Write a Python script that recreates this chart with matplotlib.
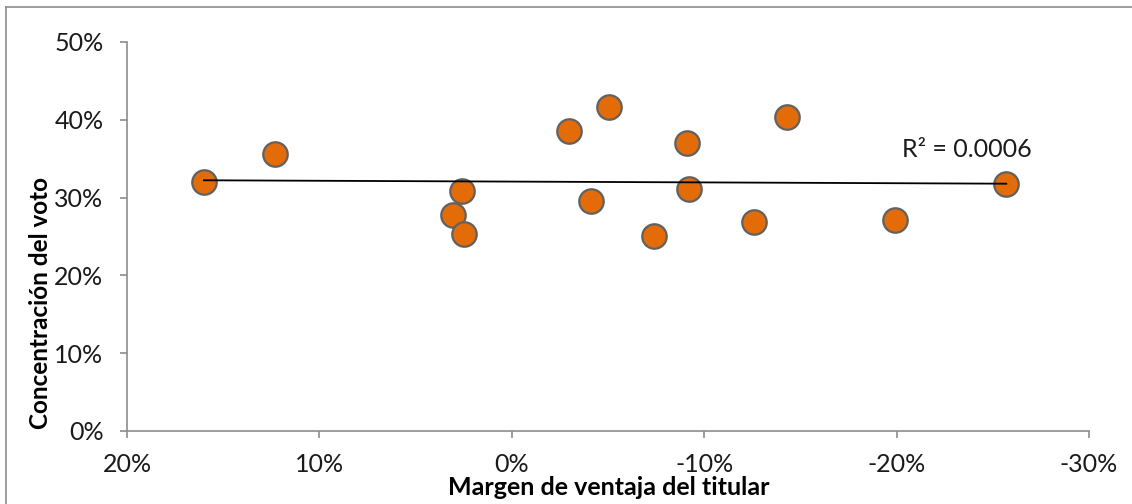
import numpy as np
import matplotlib.pyplot as plt
from matplotlib.lines import Line2D
from matplotlib.ticker import FuncFormatter

# values (in %)
margen = [16.0, 12.3, 2.6, 3.05, 2.5, -2.95, -5.05, -9.1, -9.2, -4.1,
          -7.4, -12.6, -14.3, -19.9, -25.7]
concentracion = [32.0, 35.6, 30.8, 27.7, 25.3, 38.5, 41.6, 37.0, 31.1, 29.5,
                 25.0, 26.8, 40.3, 27.1, 31.8]
x_ticks = [20, 10, 0, -10, -20, -30]
y_ticks = [0, 10, 20, 30, 40, 50]
r2_label = "R² = 0.0006"

plt.rcParams['font.family'] = ['Lato', 'DejaVu Sans']

fig = plt.figure(figsize=(11.32, 5.04), dpi=100)
ax = fig.add_axes([127 / 1132, 73 / 504, 962 / 1132, 389 / 504])

x = np.array(margen)
y = np.array(concentracion)

# linear trend line across the data range
k, b = np.polyfit(x, y, 1)
xs = np.array([x.max(), x.min()])
ax.plot(xs, k * xs + b, color='black', lw=1.3, zorder=3)

ax.scatter(x, y, s=310, color='#E36C09', edgecolor='#616161', linewidth=1.6, zorder=2)

ax.text(-20.3, 34.7, r2_label, fontsize=18, color='#1a1a1a', va='bottom', ha='left')

ax.set_xlim(20, -30)
ax.set_ylim(0, 50)
ax.set_xticks(x_ticks)
ax.set_yticks(y_ticks)
ax.xaxis.set_major_formatter(FuncFormatter(lambda v, p: f"{v:.0f}%"))
ax.yaxis.set_major_formatter(FuncFormatter(lambda v, p: f"{v:.0f}%"))

for s in ['top', 'right']:
    ax.spines[s].set_visible(False)
for s in ['left', 'bottom']:
    ax.spines[s].set_color('#8c8c8c')
    ax.spines[s].set_linewidth(1.2)
ax.tick_params(axis='both', direction='out', length=5, width=1.2, color='#8c8c8c',
               labelsize=18, labelcolor='#1a1a1a')
ax.tick_params(axis='x', pad=11)
ax.tick_params(axis='y', pad=12)

ax.set_xlabel("Margen de ventaja del titular", fontsize=18, fontweight='bold')
ax.set_ylabel("Concentración del voto", fontsize=17.5, fontweight='bold')
ax.xaxis.set_label_coords(0.501, -0.1465)
ax.xaxis.label.set_va('center')
ax.yaxis.set_label_coords(-0.0894, 0.328)
ax.yaxis.label.set_va('center')

# chart border (top and left visible)
fig.add_artist(Line2D([5.5 / 1132, 5.5 / 1132], [0, 1 - 6.5 / 504], transform=fig.transFigure,
                      color='#8c8c8c', lw=1.2))
fig.add_artist(Line2D([5.5 / 1132, 1], [1 - 6.5 / 504, 1 - 6.5 / 504], transform=fig.transFigure,
                      color='#8c8c8c', lw=1.2))

fig.savefig('out.png', dpi=100)
